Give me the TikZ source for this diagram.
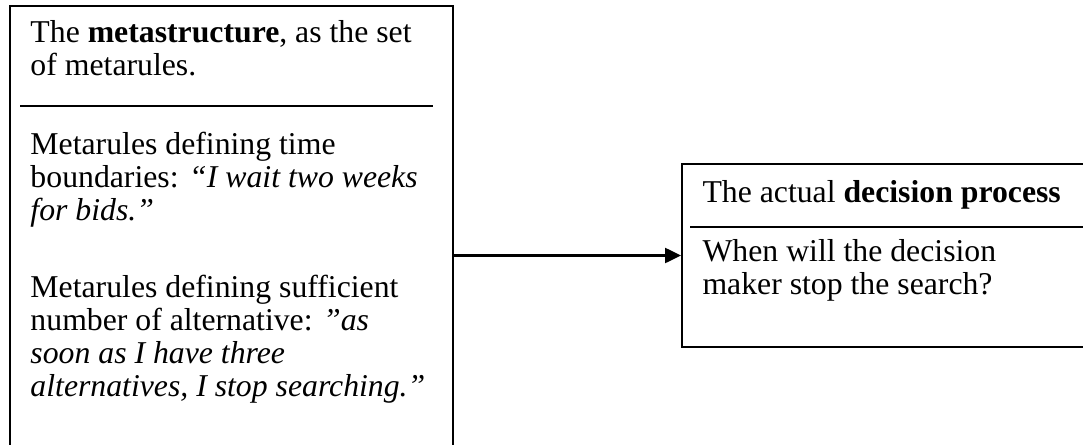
\documentclass[tikz,border=0pt]{standalone}
\usepackage{fontspec}
\setmainfont{Liberation Serif}
\usetikzlibrary{arrows.meta}

\tikzset{
    box/.style={draw, line width=0.8pt, inner sep=0pt, anchor=north west},
    txt/.style={anchor=north west, inner sep=0pt, align=left,
        font=\fontsize{12.7pt}{13.2pt}\selectfont},
    rule/.style={line width=0.8pt},
}

\begin{document}
\begin{tikzpicture}[x=0.4pt,y=-0.4pt]
            \useasboundingbox (0,0) rectangle (1083,445);
            % left box: the metastructure
            \node[box, minimum width=177.2pt, minimum height=182pt] (meta) at (9,5) {};
            \node[txt] (metahead) at (30,19) {\strut The \textbf{metastructure}, as the set\\of metarules.};
            \draw[rule] (20,106) -- (433,106);
            \node[txt] (timerule) at (30,131) {\strut Metarules defining time\\boundaries: \textit{“I wait two weeks}\\\textit{for bids.”}};
            \node[txt] (altrule) at (30,274) {\strut Metarules defining sufficient\\number of alternative: \textit{”as}\\\textit{soon as I have three}\\\textit{alternatives, I stop searching.”}};

            % right box: the decision process
            \node[box, minimum width=167.6pt, minimum height=73.2pt] (decision) at (681,163) {};
            \node[txt] (dechead) at (702,179) {\strut The actual \textbf{decision process}};
            \draw[rule] (690,227) -- (1100,227);
            \node[txt] (decquest) at (702,238) {\strut When will the decision\\maker stop the search?};

            \draw[line width=1pt, -{Triangle[length=6.4pt, width=6pt]}] (meta.east |- decision.west) -- (decision.west);
\end{tikzpicture}
\end{document}
